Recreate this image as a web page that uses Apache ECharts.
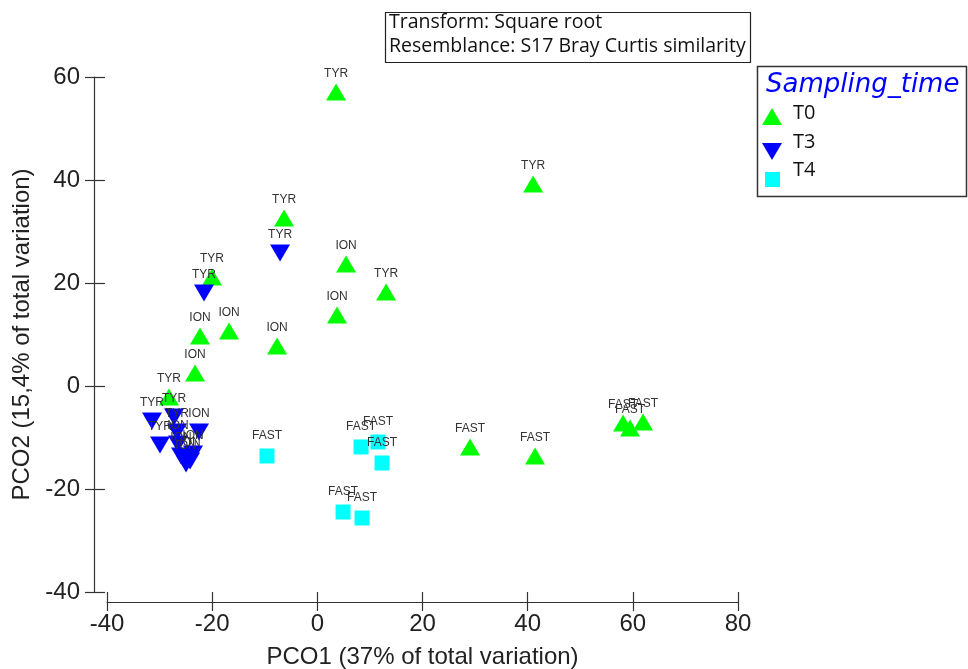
<!DOCTYPE html>
<html>
<head>
<meta charset="utf-8">
<script src="https://cdn.jsdelivr.net/npm/echarts@6/dist/echarts.min.js"></script>
<style>html,body{margin:0;padding:0;background:#fff}#c{width:968px;height:669px}</style>
</head>
<body>
<div id="c"></div>
<script>
// T0 (green up-triangles): [PCO1, PCO2, label]
const t0Points = [
  [3.56, 57.09, 'TYR'], [41.03, 39.22, 'TYR'], [-6.33, 32.62, 'TYR'], [-20.03, 21.17, 'TYR'],
  [5.46, 23.69, 'ION'], [13.07, 18.25, 'TYR'], [3.75, 13.79, 'ION'], [-16.79, 10.68, 'ION'],
  [-22.31, 9.71, 'ION'], [-7.66, 7.77, 'ION'], [-23.26, 2.52, 'ION'], [-28.21, -2.14, 'TYR'],
  [29.04, -11.84, 'FAST'], [41.4, -13.59, 'FAST'], [58.14, -7.18, 'FAST'], [59.47, -8.16, 'FAST'],
  [61.94, -6.99, 'FAST']
];
// T3 (blue down-triangles)
const t3Points = [
  [-7.09, 25.83, 'TYR'], [-21.55, 18.06, 'TYR'], [-31.44, -6.8, 'TYR'], [-27.25, -6.02, 'TYR'],
  [-26.68, -8.93, 'TYR'], [-29.92, -11.46, 'TYR'], [-22.5, -8.93, 'ION'], [-26.49, -11.26, 'ION'],
  [-25.92, -13.59, 'ION'], [-23.64, -13.2, 'ION'], [-24.97, -15.15, 'ION'], [-24.2, -14.56, 'ION']
];
// T4 (cyan squares)
const t4Points = [
  [-9.57, -13.59, 'FAST'], [8.31, -11.84, 'FAST'], [11.54, -10.87, 'FAST'],
  [12.3, -14.95, 'FAST'], [4.89, -24.47, 'FAST'], [8.5, -25.63, 'FAST']
];
const xTicks = [-40, -20, 0, 20, 40, 60, 80];
const yTicks = [-40, -20, 0, 20, 40, 60];
const xTitle = 'PCO1 (37% of total variation)';
const yTitle = 'PCO2 (15,4% of total variation)';
const infoLines = ['Transform: Square root', 'Resemblance: S17 Bray Curtis similarity'];
const legendTitle = 'Sampling_time';
const groupNames = ['T0', 'T3', 'T4'];

const FONT = 'Liberation Sans, Arial, sans-serif';
const chart = echarts.init(document.getElementById('c'));

const labelCfg = (dist) => ({
  show: true, position: 'top', distance: dist,
  formatter: p => p.data[2], color: '#333', fontSize: 12, fontFamily: FONT
});

const xBase = {
  type: 'value', min: -40, max: 80, interval: 20, position: 'bottom', offset: 10
};
const yBase = {
  type: 'value', min: -40, max: 60, interval: 20, position: 'left', offset: 13
};
const lineStyle = {color: '#333', width: 1.2};

chart.setOption({
  animation: false,
  backgroundColor: '#fff',
  grid: {left: 107, right: 230, top: 77, bottom: 77, containLabel: false, outerBoundsMode: 'none'},
  xAxis: [
    Object.assign({}, xBase, {
      name: xTitle, nameLocation: 'middle', nameGap: 43,
      nameTextStyle: {fontSize: 24, color: '#222', fontFamily: FONT},
      axisLine: {show: true, onZero: false, lineStyle: lineStyle},
      axisTick: {show: true, length: 9, lineStyle: lineStyle},
      axisLabel: {fontSize: 24, color: '#222', fontFamily: FONT, margin: 10,
        formatter: v => xTicks.includes(v) ? String(v) : ''},
      splitLine: {show: false}
    }),
    Object.assign({}, xBase, {
      axisLine: {show: false, onZero: false}, axisLabel: {show: false}, splitLine: {show: false},
      axisTick: {show: true, inside: true, length: 10, lineStyle: lineStyle}
    })
  ],
  yAxis: [
    Object.assign({}, yBase, {
      name: yTitle, nameLocation: 'middle', nameGap: 60, nameRotate: 90,
      nameTextStyle: {fontSize: 24, color: '#222', fontFamily: FONT},
      axisLine: {show: true, onZero: false, lineStyle: lineStyle},
      axisTick: {show: true, length: 9, lineStyle: lineStyle},
      axisLabel: {fontSize: 24, color: '#222', fontFamily: FONT, margin: 14,
        formatter: v => yTicks.includes(v) ? String(v) : ''},
      splitLine: {show: false}
    }),
    Object.assign({}, yBase, {
      axisLine: {show: false, onZero: false}, axisLabel: {show: false}, splitLine: {show: false},
      axisTick: {show: true, inside: true, length: 11, lineStyle: lineStyle}
    })
  ],
  series: [
    {
      name: groupNames[0], type: 'scatter', data: t0Points,
      symbol: 'triangle', symbolSize: [20, 17],
      itemStyle: {color: '#00FF00', opacity: 1},
      label: labelCfg(4)
    },
    {
      name: groupNames[1], type: 'scatter', data: t3Points,
      symbol: 'triangle', symbolRotate: 180, symbolSize: [20, 17],
      itemStyle: {color: '#0000FF', opacity: 1},
      label: labelCfg(4)
    },
    {
      name: groupNames[2], type: 'scatter', data: t4Points,
      symbol: 'rect', symbolSize: 15,
      itemStyle: {color: '#00FFFF', opacity: 1},
      label: labelCfg(7)
    }
  ],
  graphic: [
    {type: 'rect', shape: {x: 385.5, y: 12.5, width: 365, height: 50},
      style: {fill: '#fff', stroke: '#222', lineWidth: 1.2}},
    {type: 'text', x: 389, y: 22, style: {text: infoLines[0], fill: '#111',
      font: '19.5px "Open Sans", sans-serif', textVerticalAlign: 'middle'}},
    {type: 'text', x: 389, y: 46, style: {text: infoLines[1], fill: '#111',
      font: '19.5px "Open Sans", sans-serif', textVerticalAlign: 'middle'}},
    {type: 'rect', shape: {x: 757.5, y: 66.5, width: 209, height: 130},
      style: {fill: '#fff', stroke: '#333', lineWidth: 1.5}},
    {type: 'text', x: 766, y: 85, style: {text: legendTitle, fill: '#0000FF',
      font: 'italic 26px "DejaVu Sans", sans-serif', textVerticalAlign: 'middle'}},
    {type: 'polygon', shape: {points: [[772, 108], [782, 125], [762, 125]]}, style: {fill: '#00FF00'}},
    {type: 'text', x: 793, y: 113, style: {text: groupNames[0], fill: '#111',
      font: '20px "Open Sans", sans-serif', textVerticalAlign: 'middle'}},
    {type: 'polygon', shape: {points: [[762, 143], [782, 143], [772, 160]]}, style: {fill: '#0000FF'}},
    {type: 'text', x: 793, y: 142, style: {text: groupNames[1], fill: '#111',
      font: '20px "Open Sans", sans-serif', textVerticalAlign: 'middle'}},
    {type: 'rect', shape: {x: 765, y: 172, width: 15, height: 15}, style: {fill: '#00FFFF'}},
    {type: 'text', x: 793, y: 170, style: {text: groupNames[2], fill: '#111',
      font: '20px "Open Sans", sans-serif', textVerticalAlign: 'middle'}}
  ]
});
</script>
</body>
</html>
